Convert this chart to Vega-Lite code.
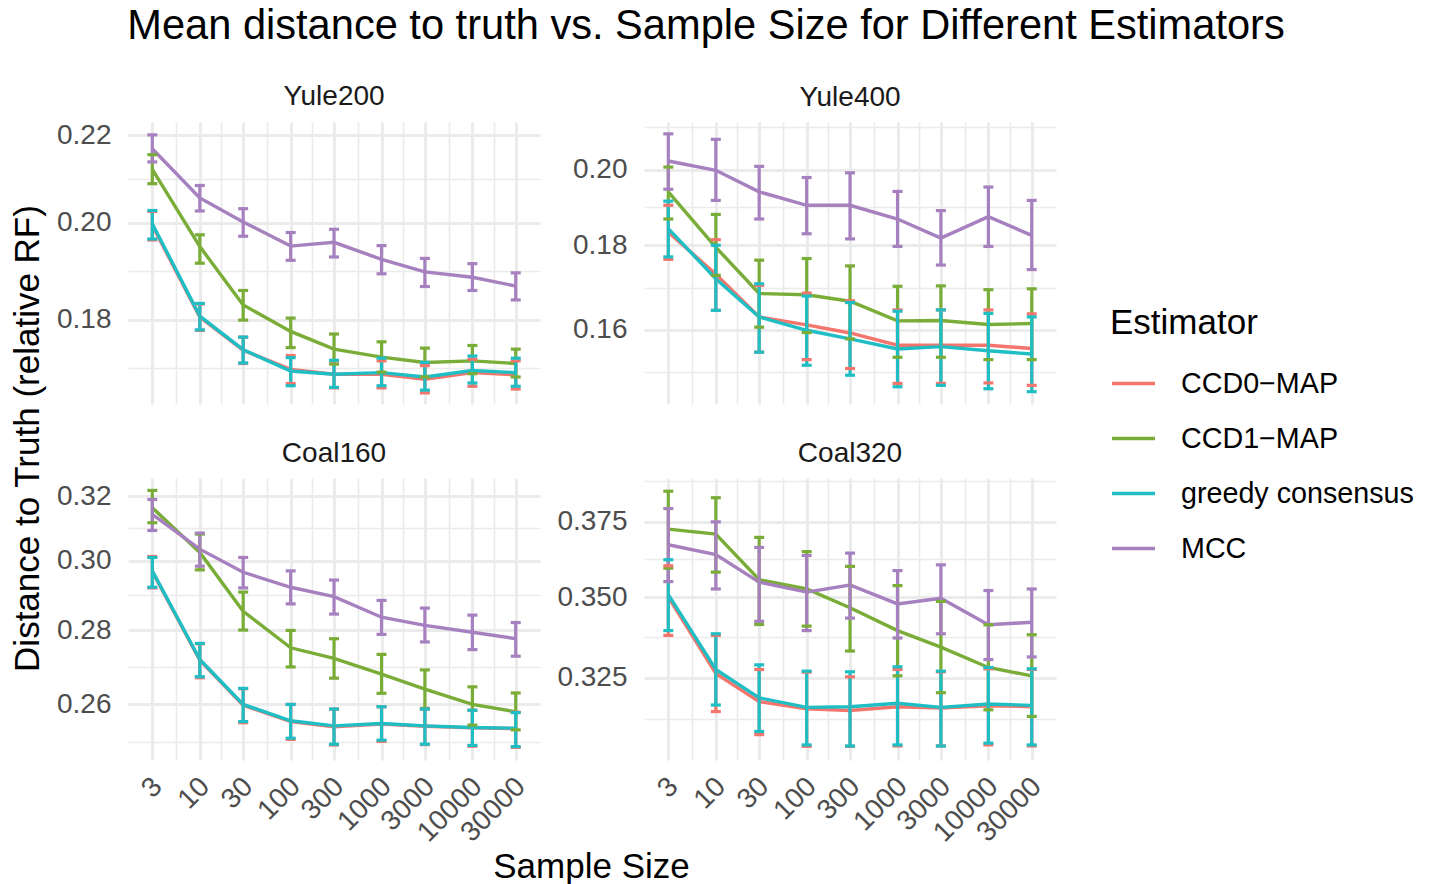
{
  "$schema": "https://vega.github.io/schema/vega-lite/v6.json",
  "background": "white",
  "padding": {"left": 10, "top": 5, "right": 5, "bottom": 5},
  "title": {"text": "Mean distance to truth vs. Sample Size for Different Estimators", "fontSize": 41.6, "fontWeight": "normal", "color": "#000000", "anchor": "middle", "dx": -6, "baseline": "alphabetic", "offset": 3, "frame": "bounds"},
  "bounds": "flush",
  "columns": 2,
  "spacing": {"row": 74, "column": 104},
  "data": {"values": [
    {"panel":"Yule200","est":"CCD0−MAP","n":3,"mean":0.1994,"lo":0.1963,"hi":0.2025},
    {"panel":"Yule200","est":"CCD0−MAP","n":10,"mean":0.1805,"lo":0.1779,"hi":0.1831},
    {"panel":"Yule200","est":"CCD0−MAP","n":30,"mean":0.1741,"lo":0.1716,"hi":0.1766},
    {"panel":"Yule200","est":"CCD0−MAP","n":100,"mean":0.1705,"lo":0.1679,"hi":0.1731},
    {"panel":"Yule200","est":"CCD0−MAP","n":300,"mean":0.1696,"lo":0.1671,"hi":0.1721},
    {"panel":"Yule200","est":"CCD0−MAP","n":1000,"mean":0.1696,"lo":0.1671,"hi":0.1721},
    {"panel":"Yule200","est":"CCD0−MAP","n":3000,"mean":0.1687,"lo":0.1662,"hi":0.1712},
    {"panel":"Yule200","est":"CCD0−MAP","n":10000,"mean":0.1699,"lo":0.1674,"hi":0.1724},
    {"panel":"Yule200","est":"CCD0−MAP","n":30000,"mean":0.1695,"lo":0.1669,"hi":0.1721},
    {"panel":"Yule200","est":"CCD1−MAP","n":3,"mean":0.2120,"lo":0.2087,"hi":0.2154},
    {"panel":"Yule200","est":"CCD1−MAP","n":10,"mean":0.1949,"lo":0.1914,"hi":0.1974},
    {"panel":"Yule200","est":"CCD1−MAP","n":30,"mean":0.1829,"lo":0.1799,"hi":0.1858},
    {"panel":"Yule200","est":"CCD1−MAP","n":100,"mean":0.1777,"lo":0.1746,"hi":0.1803},
    {"panel":"Yule200","est":"CCD1−MAP","n":300,"mean":0.1743,"lo":0.1715,"hi":0.1772},
    {"panel":"Yule200","est":"CCD1−MAP","n":1000,"mean":0.1728,"lo":0.1700,"hi":0.1757},
    {"panel":"Yule200","est":"CCD1−MAP","n":3000,"mean":0.1718,"lo":0.1691,"hi":0.1745},
    {"panel":"Yule200","est":"CCD1−MAP","n":10000,"mean":0.1721,"lo":0.1697,"hi":0.1750},
    {"panel":"Yule200","est":"CCD1−MAP","n":30000,"mean":0.1716,"lo":0.1691,"hi":0.1743},
    {"panel":"Yule200","est":"greedy consensus","n":3,"mean":0.1998,"lo":0.1965,"hi":0.2027},
    {"panel":"Yule200","est":"greedy consensus","n":10,"mean":0.1807,"lo":0.1780,"hi":0.1832},
    {"panel":"Yule200","est":"greedy consensus","n":30,"mean":0.1742,"lo":0.1717,"hi":0.1766},
    {"panel":"Yule200","est":"greedy consensus","n":100,"mean":0.1702,"lo":0.1675,"hi":0.1727},
    {"panel":"Yule200","est":"greedy consensus","n":300,"mean":0.1696,"lo":0.1672,"hi":0.1722},
    {"panel":"Yule200","est":"greedy consensus","n":1000,"mean":0.1699,"lo":0.1675,"hi":0.1726},
    {"panel":"Yule200","est":"greedy consensus","n":3000,"mean":0.1691,"lo":0.1667,"hi":0.1718},
    {"panel":"Yule200","est":"greedy consensus","n":10000,"mean":0.1703,"lo":0.1680,"hi":0.1730},
    {"panel":"Yule200","est":"greedy consensus","n":30000,"mean":0.1699,"lo":0.1674,"hi":0.1726},
    {"panel":"Yule200","est":"MCC","n":3,"mean":0.2168,"lo":0.2137,"hi":0.2201},
    {"panel":"Yule200","est":"MCC","n":10,"mean":0.2055,"lo":0.2026,"hi":0.2083},
    {"panel":"Yule200","est":"MCC","n":30,"mean":0.2002,"lo":0.1971,"hi":0.2031},
    {"panel":"Yule200","est":"MCC","n":100,"mean":0.1950,"lo":0.1920,"hi":0.1979},
    {"panel":"Yule200","est":"MCC","n":300,"mean":0.1958,"lo":0.1927,"hi":0.1986},
    {"panel":"Yule200","est":"MCC","n":1000,"mean":0.1922,"lo":0.1892,"hi":0.1951},
    {"panel":"Yule200","est":"MCC","n":3000,"mean":0.1896,"lo":0.1866,"hi":0.1924},
    {"panel":"Yule200","est":"MCC","n":10000,"mean":0.1885,"lo":0.1858,"hi":0.1913},
    {"panel":"Yule200","est":"MCC","n":30000,"mean":0.1867,"lo":0.1839,"hi":0.1894},

    {"panel":"Yule400","est":"CCD0−MAP","n":3,"mean":0.1833,"lo":0.1765,"hi":0.1903},
    {"panel":"Yule400","est":"CCD0−MAP","n":10,"mean":0.1729,"lo":0.1644,"hi":0.1814},
    {"panel":"Yule400","est":"CCD0−MAP","n":30,"mean":0.1629,"lo":0.1551,"hi":0.1702},
    {"panel":"Yule400","est":"CCD0−MAP","n":100,"mean":0.1611,"lo":0.1535,"hi":0.1684},
    {"panel":"Yule400","est":"CCD0−MAP","n":300,"mean":0.1593,"lo":0.1516,"hi":0.1666},
    {"panel":"Yule400","est":"CCD0−MAP","n":1000,"mean":0.1566,"lo":0.1485,"hi":0.1645},
    {"panel":"Yule400","est":"CCD0−MAP","n":3000,"mean":0.1566,"lo":0.1485,"hi":0.1645},
    {"panel":"Yule400","est":"CCD0−MAP","n":10000,"mean":0.1566,"lo":0.1486,"hi":0.1645},
    {"panel":"Yule400","est":"CCD0−MAP","n":30000,"mean":0.1559,"lo":0.1481,"hi":0.1636},
    {"panel":"Yule400","est":"CCD1−MAP","n":3,"mean":0.1939,"lo":0.1867,"hi":0.2007},
    {"panel":"Yule400","est":"CCD1−MAP","n":10,"mean":0.1795,"lo":0.1726,"hi":0.1879},
    {"panel":"Yule400","est":"CCD1−MAP","n":30,"mean":0.1683,"lo":0.1606,"hi":0.1763},
    {"panel":"Yule400","est":"CCD1−MAP","n":100,"mean":0.1680,"lo":0.1594,"hi":0.1767},
    {"panel":"Yule400","est":"CCD1−MAP","n":300,"mean":0.1665,"lo":0.1580,"hi":0.1749},
    {"panel":"Yule400","est":"CCD1−MAP","n":1000,"mean":0.1620,"lo":0.1540,"hi":0.1700},
    {"panel":"Yule400","est":"CCD1−MAP","n":3000,"mean":0.1621,"lo":0.1540,"hi":0.1701},
    {"panel":"Yule400","est":"CCD1−MAP","n":10000,"mean":0.1612,"lo":0.1535,"hi":0.1692},
    {"panel":"Yule400","est":"CCD1−MAP","n":30000,"mean":0.1614,"lo":0.1535,"hi":0.1694},
    {"panel":"Yule400","est":"greedy consensus","n":3,"mean":0.1842,"lo":0.1771,"hi":0.1914},
    {"panel":"Yule400","est":"greedy consensus","n":10,"mean":0.1718,"lo":0.1644,"hi":0.1800},
    {"panel":"Yule400","est":"greedy consensus","n":30,"mean":0.1629,"lo":0.1551,"hi":0.1706},
    {"panel":"Yule400","est":"greedy consensus","n":100,"mean":0.1599,"lo":0.1523,"hi":0.1677},
    {"panel":"Yule400","est":"greedy consensus","n":300,"mean":0.1580,"lo":0.1502,"hi":0.1662},
    {"panel":"Yule400","est":"greedy consensus","n":1000,"mean":0.1558,"lo":0.1478,"hi":0.1642},
    {"panel":"Yule400","est":"greedy consensus","n":3000,"mean":0.1563,"lo":0.1481,"hi":0.1645},
    {"panel":"Yule400","est":"greedy consensus","n":10000,"mean":0.1554,"lo":0.1474,"hi":0.1637},
    {"panel":"Yule400","est":"greedy consensus","n":30000,"mean":0.1547,"lo":0.1468,"hi":0.1629},
    {"panel":"Yule400","est":"MCC","n":3,"mean":0.2024,"lo":0.1946,"hi":0.2102},
    {"panel":"Yule400","est":"MCC","n":10,"mean":0.1998,"lo":0.1916,"hi":0.2086},
    {"panel":"Yule400","est":"MCC","n":30,"mean":0.1939,"lo":0.1867,"hi":0.2009},
    {"panel":"Yule400","est":"MCC","n":100,"mean":0.1903,"lo":0.1829,"hi":0.1978},
    {"panel":"Yule400","est":"MCC","n":300,"mean":0.1903,"lo":0.1816,"hi":0.1991},
    {"panel":"Yule400","est":"MCC","n":1000,"mean":0.1867,"lo":0.1797,"hi":0.1940},
    {"panel":"Yule400","est":"MCC","n":3000,"mean":0.1818,"lo":0.1751,"hi":0.1889},
    {"panel":"Yule400","est":"MCC","n":10000,"mean":0.1873,"lo":0.1797,"hi":0.1952},
    {"panel":"Yule400","est":"MCC","n":30000,"mean":0.1825,"lo":0.1740,"hi":0.1916},

    {"panel":"Coal160","est":"CCD0−MAP","n":3,"mean":0.2968,"lo":0.2920,"hi":0.3013},
    {"panel":"Coal160","est":"CCD0−MAP","n":10,"mean":0.2717,"lo":0.2670,"hi":0.2762},
    {"panel":"Coal160","est":"CCD0−MAP","n":30,"mean":0.2598,"lo":0.2553,"hi":0.2641},
    {"panel":"Coal160","est":"CCD0−MAP","n":100,"mean":0.2556,"lo":0.2511,"hi":0.2600},
    {"panel":"Coal160","est":"CCD0−MAP","n":300,"mean":0.2543,"lo":0.2497,"hi":0.2588},
    {"panel":"Coal160","est":"CCD0−MAP","n":1000,"mean":0.2550,"lo":0.2506,"hi":0.2594},
    {"panel":"Coal160","est":"CCD0−MAP","n":3000,"mean":0.2544,"lo":0.2498,"hi":0.2588},
    {"panel":"Coal160","est":"CCD0−MAP","n":10000,"mean":0.2540,"lo":0.2494,"hi":0.2585},
    {"panel":"Coal160","est":"CCD0−MAP","n":30000,"mean":0.2538,"lo":0.2491,"hi":0.2580},
    {"panel":"Coal160","est":"CCD1−MAP","n":3,"mean":0.3163,"lo":0.3116,"hi":0.3218},
    {"panel":"Coal160","est":"CCD1−MAP","n":10,"mean":0.3025,"lo":0.2973,"hi":0.3081},
    {"panel":"Coal160","est":"CCD1−MAP","n":30,"mean":0.2853,"lo":0.2800,"hi":0.2908},
    {"panel":"Coal160","est":"CCD1−MAP","n":100,"mean":0.2751,"lo":0.2699,"hi":0.2799},
    {"panel":"Coal160","est":"CCD1−MAP","n":300,"mean":0.2722,"lo":0.2669,"hi":0.2776},
    {"panel":"Coal160","est":"CCD1−MAP","n":1000,"mean":0.2680,"lo":0.2629,"hi":0.2733},
    {"panel":"Coal160","est":"CCD1−MAP","n":3000,"mean":0.2640,"lo":0.2590,"hi":0.2691},
    {"panel":"Coal160","est":"CCD1−MAP","n":10000,"mean":0.2600,"lo":0.2547,"hi":0.2646},
    {"panel":"Coal160","est":"CCD1−MAP","n":30000,"mean":0.2581,"lo":0.2535,"hi":0.2630},
    {"panel":"Coal160","est":"greedy consensus","n":3,"mean":0.2970,"lo":0.2922,"hi":0.3010},
    {"panel":"Coal160","est":"greedy consensus","n":10,"mean":0.2719,"lo":0.2673,"hi":0.2763},
    {"panel":"Coal160","est":"greedy consensus","n":30,"mean":0.2600,"lo":0.2556,"hi":0.2642},
    {"panel":"Coal160","est":"greedy consensus","n":100,"mean":0.2558,"lo":0.2514,"hi":0.2600},
    {"panel":"Coal160","est":"greedy consensus","n":300,"mean":0.2545,"lo":0.2499,"hi":0.2588},
    {"panel":"Coal160","est":"greedy consensus","n":1000,"mean":0.2551,"lo":0.2509,"hi":0.2594},
    {"panel":"Coal160","est":"greedy consensus","n":3000,"mean":0.2545,"lo":0.2499,"hi":0.2588},
    {"panel":"Coal160","est":"greedy consensus","n":10000,"mean":0.2541,"lo":0.2496,"hi":0.2585},
    {"panel":"Coal160","est":"greedy consensus","n":30000,"mean":0.2539,"lo":0.2493,"hi":0.2579},
    {"panel":"Coal160","est":"MCC","n":3,"mean":0.3142,"lo":0.3092,"hi":0.3189},
    {"panel":"Coal160","est":"MCC","n":10,"mean":0.3035,"lo":0.2984,"hi":0.3084},
    {"panel":"Coal160","est":"MCC","n":30,"mean":0.2966,"lo":0.2920,"hi":0.3010},
    {"panel":"Coal160","est":"MCC","n":100,"mean":0.2922,"lo":0.2874,"hi":0.2970},
    {"panel":"Coal160","est":"MCC","n":300,"mean":0.2895,"lo":0.2845,"hi":0.2943},
    {"panel":"Coal160","est":"MCC","n":1000,"mean":0.2836,"lo":0.2788,"hi":0.2884},
    {"panel":"Coal160","est":"MCC","n":3000,"mean":0.2813,"lo":0.2767,"hi":0.2862},
    {"panel":"Coal160","est":"MCC","n":10000,"mean":0.2794,"lo":0.2746,"hi":0.2842},
    {"panel":"Coal160","est":"MCC","n":30000,"mean":0.2776,"lo":0.2728,"hi":0.2821},

    {"panel":"Coal320","est":"CCD0−MAP","n":3,"mean":0.3500,"lo":0.3379,"hi":0.3602},
    {"panel":"Coal320","est":"CCD0−MAP","n":10,"mean":0.3263,"lo":0.3151,"hi":0.3379},
    {"panel":"Coal320","est":"CCD0−MAP","n":30,"mean":0.3180,"lo":0.3085,"hi":0.3275},
    {"panel":"Coal320","est":"CCD0−MAP","n":100,"mean":0.3159,"lo":0.3052,"hi":0.3267},
    {"panel":"Coal320","est":"CCD0−MAP","n":300,"mean":0.3154,"lo":0.3052,"hi":0.3253},
    {"panel":"Coal320","est":"CCD0−MAP","n":1000,"mean":0.3165,"lo":0.3053,"hi":0.3275},
    {"panel":"Coal320","est":"CCD0−MAP","n":3000,"mean":0.3161,"lo":0.3053,"hi":0.3268},
    {"panel":"Coal320","est":"CCD0−MAP","n":10000,"mean":0.3168,"lo":0.3056,"hi":0.3277},
    {"panel":"Coal320","est":"CCD0−MAP","n":30000,"mean":0.3165,"lo":0.3053,"hi":0.3275},
    {"panel":"Coal320","est":"CCD1−MAP","n":3,"mean":0.3725,"lo":0.3594,"hi":0.3857},
    {"panel":"Coal320","est":"CCD1−MAP","n":10,"mean":0.3708,"lo":0.3581,"hi":0.3834},
    {"panel":"Coal320","est":"CCD1−MAP","n":30,"mean":0.3556,"lo":0.3413,"hi":0.3697},
    {"panel":"Coal320","est":"CCD1−MAP","n":100,"mean":0.3526,"lo":0.3408,"hi":0.3649},
    {"panel":"Coal320","est":"CCD1−MAP","n":300,"mean":0.3466,"lo":0.3331,"hi":0.3600},
    {"panel":"Coal320","est":"CCD1−MAP","n":1000,"mean":0.3394,"lo":0.3256,"hi":0.3537},
    {"panel":"Coal320","est":"CCD1−MAP","n":3000,"mean":0.3343,"lo":0.3206,"hi":0.3486},
    {"panel":"Coal320","est":"CCD1−MAP","n":10000,"mean":0.3281,"lo":0.3156,"hi":0.3412},
    {"panel":"Coal320","est":"CCD1−MAP","n":30000,"mean":0.3256,"lo":0.3137,"hi":0.3381},
    {"panel":"Coal320","est":"greedy consensus","n":3,"mean":0.3508,"lo":0.3394,"hi":0.3622},
    {"panel":"Coal320","est":"greedy consensus","n":10,"mean":0.3275,"lo":0.3170,"hi":0.3384},
    {"panel":"Coal320","est":"greedy consensus","n":30,"mean":0.3191,"lo":0.3094,"hi":0.3289},
    {"panel":"Coal320","est":"greedy consensus","n":100,"mean":0.3163,"lo":0.3056,"hi":0.3270},
    {"panel":"Coal320","est":"greedy consensus","n":300,"mean":0.3165,"lo":0.3053,"hi":0.3268},
    {"panel":"Coal320","est":"greedy consensus","n":1000,"mean":0.3175,"lo":0.3056,"hi":0.3283},
    {"panel":"Coal320","est":"greedy consensus","n":3000,"mean":0.3163,"lo":0.3053,"hi":0.3270},
    {"panel":"Coal320","est":"greedy consensus","n":10000,"mean":0.3173,"lo":0.3061,"hi":0.3281},
    {"panel":"Coal320","est":"greedy consensus","n":30000,"mean":0.3169,"lo":0.3056,"hi":0.3277},
    {"panel":"Coal320","est":"MCC","n":3,"mean":0.3672,"lo":0.3550,"hi":0.3796},
    {"panel":"Coal320","est":"MCC","n":10,"mean":0.3639,"lo":0.3526,"hi":0.3750},
    {"panel":"Coal320","est":"MCC","n":30,"mean":0.3548,"lo":0.3423,"hi":0.3663},
    {"panel":"Coal320","est":"MCC","n":100,"mean":0.3516,"lo":0.3394,"hi":0.3636},
    {"panel":"Coal320","est":"MCC","n":300,"mean":0.3539,"lo":0.3433,"hi":0.3644},
    {"panel":"Coal320","est":"MCC","n":1000,"mean":0.3478,"lo":0.3371,"hi":0.3586},
    {"panel":"Coal320","est":"MCC","n":3000,"mean":0.3496,"lo":0.3384,"hi":0.3605},
    {"panel":"Coal320","est":"MCC","n":10000,"mean":0.3412,"lo":0.3305,"hi":0.3521},
    {"panel":"Coal320","est":"MCC","n":30000,"mean":0.3420,"lo":0.3313,"hi":0.3526}
  ]},
  "concat": [
    {
      "title": {"text": "Yule200"},
      "width": 412, "height": 282,
      "transform": [{"filter": "datum.panel === 'Yule200'"}],
      "encoding": {
        "x": {"field": "n", "type": "quantitative", "scale": {"type": "log", "domain": [1.62, 55500], "nice": false}, "axis": {"title": null, "labels": false, "values": [3, 5.477, 10, 17.32, 30, 54.77, 100, 173.2, 300, 547.7, 1000, 1732, 3000, 5477, 10000, 17321, 30000], "gridWidth": {"condition": {"test": "indexof([3,10,30,100,300,1000,3000,10000,30000], datum.value) >= 0", "value": 3}, "value": 1.6}}},
        "color": {"field": "est", "type": "nominal", "scale": {"domain": ["CCD0−MAP", "CCD1−MAP", "greedy consensus", "MCC"], "range": ["#F2766E", "#79AD38", "#1FBEC4", "#A680BF"]}, "legend": {"title": "Estimator", "orient": "none", "legendX": 982, "legendY": 184}}
      },
      "layer": [
        {"mark": {"type": "line", "strokeWidth": 3.4}, "encoding": {"y": {"field": "mean", "type": "quantitative", "scale": {"type": "log", "domain": [0.1642, 0.2232], "nice": false}, "axis": {"title": "Distance to Truth (relative RF)", "titleX": -90, "titleY": 316, "titleBaseline": "alphabetic", "titleAlign": "center", "format": ".2f", "values": [0.17079, 0.18, 0.18974, 0.2, 0.20976, 0.22], "labelExpr": "indexof([0.18,0.2,0.22], datum.value) >= 0 ? datum.label : ''", "labelFontSize": {"condition": {"test": "indexof([0.18,0.2,0.22], datum.value) >= 0", "value": 28}, "value": 0}, "gridWidth": {"condition": {"test": "indexof([0.18,0.2,0.22], datum.value) >= 0", "value": 3}, "value": 1.6}}}}},
        {"mark": {"type": "rule", "strokeWidth": 3.2, "opacity": 1}, "encoding": {"y": {"field": "lo", "type": "quantitative"}, "y2": {"field": "hi"}}},
        {"mark": {"type": "tick", "orient": "horizontal", "size": 10, "thickness": 3.2, "opacity": 1}, "encoding": {"y": {"field": "lo", "type": "quantitative"}}},
        {"mark": {"type": "tick", "orient": "horizontal", "size": 10, "thickness": 3.2, "opacity": 1}, "encoding": {"y": {"field": "hi", "type": "quantitative"}}}
      ]
    },
    {
      "title": {"text": "Yule400"},
      "width": 412, "height": 282,
      "transform": [{"filter": "datum.panel === 'Yule400'"}],
      "encoding": {
        "x": {"field": "n", "type": "quantitative", "scale": {"type": "log", "domain": [1.62, 55500], "nice": false}, "axis": {"title": null, "labels": false, "values": [3, 5.477, 10, 17.32, 30, 54.77, 100, 173.2, 300, 547.7, 1000, 1732, 3000, 5477, 10000, 17321, 30000], "gridWidth": {"condition": {"test": "indexof([3,10,30,100,300,1000,3000,10000,30000], datum.value) >= 0", "value": 3}, "value": 1.6}}},
        "color": {"field": "est", "type": "nominal", "scale": {"domain": ["CCD0−MAP", "CCD1−MAP", "greedy consensus", "MCC"], "range": ["#F2766E", "#79AD38", "#1FBEC4", "#A680BF"]}, "legend": {"title": "Estimator", "orient": "none", "legendX": 982, "legendY": 184}}
      },
      "layer": [
        {"mark": {"type": "line", "strokeWidth": 3.4}, "encoding": {"y": {"field": "mean", "type": "quantitative", "scale": {"type": "log", "domain": [0.1443, 0.2137], "nice": false}, "axis": {"title": null, "format": ".2f", "values": [0.15088, 0.16, 0.16971, 0.18, 0.18974, 0.2, 0.21213], "labelExpr": "indexof([0.16,0.18,0.2], datum.value) >= 0 ? datum.label : ''", "labelFontSize": {"condition": {"test": "indexof([0.16,0.18,0.2], datum.value) >= 0", "value": 28}, "value": 0}, "gridWidth": {"condition": {"test": "indexof([0.16,0.18,0.2], datum.value) >= 0", "value": 3}, "value": 1.6}}}}},
        {"mark": {"type": "rule", "strokeWidth": 3.2, "opacity": 1}, "encoding": {"y": {"field": "lo", "type": "quantitative"}, "y2": {"field": "hi"}}},
        {"mark": {"type": "tick", "orient": "horizontal", "size": 10, "thickness": 3.2, "opacity": 1}, "encoding": {"y": {"field": "lo", "type": "quantitative"}}},
        {"mark": {"type": "tick", "orient": "horizontal", "size": 10, "thickness": 3.2, "opacity": 1}, "encoding": {"y": {"field": "hi", "type": "quantitative"}}}
      ]
    },
    {
      "title": {"text": "Coal160"},
      "width": 412, "height": 282,
      "transform": [{"filter": "datum.panel === 'Coal160'"}],
      "encoding": {
        "x": {"field": "n", "type": "quantitative", "scale": {"type": "log", "domain": [1.62, 55500], "nice": false}, "axis": {"title": "Sample Size", "titleX": 463, "titleY": 117, "titleBaseline": "alphabetic", "titleAlign": "center", "format": "d", "values": [3, 5.477, 10, 17.32, 30, 54.77, 100, 173.2, 300, 547.7, 1000, 1732, 3000, 5477, 10000, 17321, 30000], "labelExpr": "indexof([3,10,30,100,300,1000,3000,10000,30000], datum.value) >= 0 ? datum.label : ''", "gridWidth": {"condition": {"test": "indexof([3,10,30,100,300,1000,3000,10000,30000], datum.value) >= 0", "value": 3}, "value": 1.6}}},
        "color": {"field": "est", "type": "nominal", "scale": {"domain": ["CCD0−MAP", "CCD1−MAP", "greedy consensus", "MCC"], "range": ["#F2766E", "#79AD38", "#1FBEC4", "#A680BF"]}, "legend": {"title": "Estimator", "orient": "none", "legendX": 982, "legendY": 184}}
      },
      "layer": [
        {"mark": {"type": "line", "strokeWidth": 3.4}, "encoding": {"y": {"field": "mean", "type": "quantitative", "scale": {"type": "log", "domain": [0.2460, 0.3258], "nice": false}, "axis": {"title": null, "format": ".2f", "values": [0.25054, 0.26, 0.26981, 0.28, 0.28983, 0.3, 0.30984, 0.32], "labelExpr": "indexof([0.26,0.28,0.3,0.32], datum.value) >= 0 ? datum.label : ''", "labelFontSize": {"condition": {"test": "indexof([0.26,0.28,0.3,0.32], datum.value) >= 0", "value": 28}, "value": 0}, "gridWidth": {"condition": {"test": "indexof([0.26,0.28,0.3,0.32], datum.value) >= 0", "value": 3}, "value": 1.6}}}}},
        {"mark": {"type": "rule", "strokeWidth": 3.2, "opacity": 1}, "encoding": {"y": {"field": "lo", "type": "quantitative"}, "y2": {"field": "hi"}}},
        {"mark": {"type": "tick", "orient": "horizontal", "size": 10, "thickness": 3.2, "opacity": 1}, "encoding": {"y": {"field": "lo", "type": "quantitative"}}},
        {"mark": {"type": "tick", "orient": "horizontal", "size": 10, "thickness": 3.2, "opacity": 1}, "encoding": {"y": {"field": "hi", "type": "quantitative"}}}
      ]
    },
    {
      "title": {"text": "Coal320"},
      "width": 412, "height": 282,
      "transform": [{"filter": "datum.panel === 'Coal320'"}],
      "encoding": {
        "x": {"field": "n", "type": "quantitative", "scale": {"type": "log", "domain": [1.62, 55500], "nice": false}, "axis": {"title": null, "format": "d", "values": [3, 5.477, 10, 17.32, 30, 54.77, 100, 173.2, 300, 547.7, 1000, 1732, 3000, 5477, 10000, 17321, 30000], "labelExpr": "indexof([3,10,30,100,300,1000,3000,10000,30000], datum.value) >= 0 ? datum.label : ''", "gridWidth": {"condition": {"test": "indexof([3,10,30,100,300,1000,3000,10000,30000], datum.value) >= 0", "value": 3}, "value": 1.6}}},
        "color": {"field": "est", "type": "nominal", "scale": {"domain": ["CCD0−MAP", "CCD1−MAP", "greedy consensus", "MCC"], "range": ["#F2766E", "#79AD38", "#1FBEC4", "#A680BF"]}, "legend": {"title": "Estimator", "orient": "none", "legendX": 982, "legendY": 184}}
      },
      "layer": [
        {"mark": {"type": "line", "strokeWidth": 3.4}, "encoding": {"y": {"field": "mean", "type": "quantitative", "scale": {"type": "log", "domain": [0.3014, 0.3904], "nice": false}, "axis": {"title": null, "format": ".3f", "values": [0.31307, 0.325, 0.33727, 0.35, 0.36228, 0.375, 0.38917], "labelExpr": "indexof([0.325,0.35,0.375], datum.value) >= 0 ? datum.label : ''", "labelFontSize": {"condition": {"test": "indexof([0.325,0.35,0.375], datum.value) >= 0", "value": 28}, "value": 0}, "gridWidth": {"condition": {"test": "indexof([0.325,0.35,0.375], datum.value) >= 0", "value": 3}, "value": 1.6}}}}},
        {"mark": {"type": "rule", "strokeWidth": 3.2, "opacity": 1}, "encoding": {"y": {"field": "lo", "type": "quantitative"}, "y2": {"field": "hi"}}},
        {"mark": {"type": "tick", "orient": "horizontal", "size": 10, "thickness": 3.2, "opacity": 1}, "encoding": {"y": {"field": "lo", "type": "quantitative"}}},
        {"mark": {"type": "tick", "orient": "horizontal", "size": 10, "thickness": 3.2, "opacity": 1}, "encoding": {"y": {"field": "hi", "type": "quantitative"}}}
      ]
    }
  ],
  "config": {
    "font": "Liberation Sans",
    "view": {"stroke": null},
    "title": {"fontSize": 28, "fontWeight": "normal", "color": "#1A1A1A", "baseline": "alphabetic", "offset": 10, "anchor": "middle", "font": "Liberation Sans"},
    "axis": {
      "domain": false, "ticks": false, "tickSize": 0,
      "grid": true, "gridColor": "#EBEBEB",
      "labelOverlap": false, "labelFlush": false, "labelBound": false,
      "labelFont": "Liberation Sans", "labelFontSize": 28, "labelColor": "#4D4D4D",
      "titleFont": "Liberation Sans", "titleFontSize": 35, "titleFontWeight": "normal", "titleColor": "#000000"
    },
    "axisY": {"labelPadding": 17},
    "axisX": {"labelAngle": -45, "labelAlign": "right", "labelBaseline": "middle", "labelOffset": 5, "labelPadding": 22},
    "legend": {
      "titleFont": "Liberation Sans", "titleFontSize": 35, "titleFontWeight": "normal", "titleColor": "#000000", "titlePadding": 19,
      "labelFont": "Liberation Sans", "labelFontSize": 28.7, "labelColor": "#000000", "labelOffset": 24, "labelLimit": 0,
      "symbolType": "stroke", "symbolSize": 1849, "symbolStrokeWidth": 3.5, "symbolOpacity": 1, "rowPadding": 16, "padding": 0
    }
  }
}
